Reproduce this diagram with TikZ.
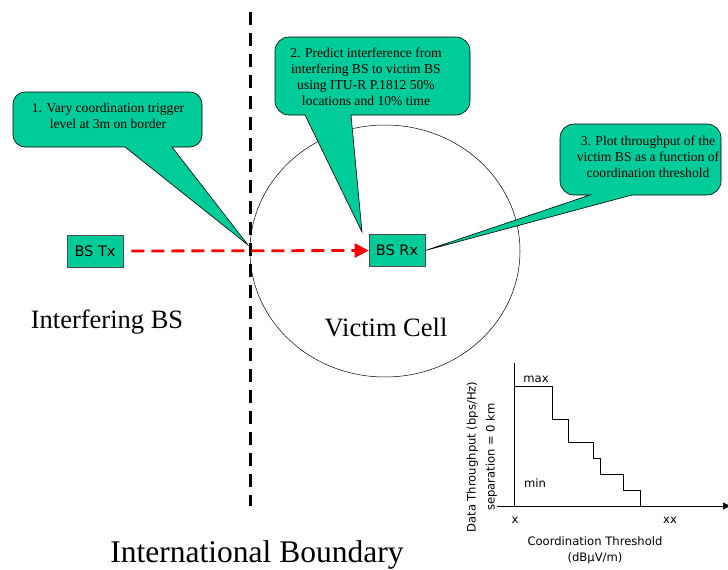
\documentclass[tikz,border=0pt]{standalone}
\usepackage{fontspec}
\setmainfont{Liberation Serif}
\newfontfamily\vsans{DejaVu Sans}
\usetikzlibrary{arrows.meta,shapes.geometric}
\definecolor{calloutgreen}{RGB}{0,204,153}
\begin{document}
\begin{tikzpicture}[x=1pt,y=-1pt,
  callout/.style={draw=black, line width=0.6pt, fill=calloutgreen},
  calltext/.style={align=center, font=\fontsize{13.6}{16}\selectfont, inner sep=0pt},
  bsbox/.style={draw=black!70, line width=0.6pt, fill=calloutgreen, minimum width=56pt, minimum height=32pt, inner sep=0pt, font=\vsans\fontsize{14.5}{16}\selectfont},
  bigtext/.style={font=\fontsize{26.5}{30}\selectfont, inner sep=0pt},
  charttext/.style={font=\vsans\fontsize{11.6}{13}\selectfont, inner sep=0pt},
  boundary/.style={line width=3pt, dash pattern=on 13pt off 8pt},
  interf/.style={red, line width=2.8pt, dash pattern=on 13pt off 7pt},
]
\useasboundingbox (0,0) rectangle (728,570);

% boundary line
\coordinate (btop) at (250,12);
\coordinate (bbot) at (250,506);
\draw[boundary] (btop) -- (bbot);

% victim cell
\node[draw, line width=0.5pt, ellipse, minimum width=270pt, minimum height=252pt, inner sep=0pt] (cell) at (385,251) {};

% BS boxes
\node[bsbox] (tx) at (95,251) {BS Tx};
\node[bsbox] (rx) at (397,250.5) {BS Rx};

% interference arrow
\draw[interf, -{Triangle[length=14pt,width=14pt]}, shorten <=8pt] (tx.east) -- (rx.west);

% callout 1
\coordinate (t1) at (248,245);
\draw[callout] (108,92) [rounded corners=12] -- (202,92) -- (202,147) [sharp corners] -- (172,147) -- (t1) -- (125,147) [rounded corners=12] -- (13,147) -- (13,92) -- cycle;
\node[calltext] (c1) at (108,116) {1. Vary coordination trigger\\level at 3m on border};

% callout 2
\coordinate (t2) at (362,232);
\draw[callout] (372,37) [rounded corners=14] -- (470,37) -- (470,115) [sharp corners] -- (351,115) -- (t2) -- (305,115) [rounded corners=14] -- (275,115) -- (275,37) -- cycle;
\node[calltext] (c2) at (366,77) {2. Predict interference from\\interfering BS to victim BS\\using ITU-R P.1812 50\%\\locations and 10\% time};

% callout 3
\coordinate (t3) at (rx.east);
\draw[callout] (640,124) [rounded corners=14] -- (721,124) -- (721,195) [sharp corners] -- (632,195) -- (t3) -- (590,195) [rounded corners=14] -- (560,195) -- (560,124) -- cycle;
\node[calltext] (c3) at (648,157) {3. Plot throughput of the\\victim BS as a function of\\coordination threshold};

% big labels
\node[bigtext] (ibs) at (107,322) {Interfering BS};
\node[bigtext] (vc) at (386,328) {Victim Cell};
\node[font=\fontsize{31.5}{34}\selectfont, inner sep=0pt] (ib) at (257,555) {International Boundary};

% chart
\coordinate (ytop) at (514,363);
\coordinate (ybot) at (514,506);
\coordinate (xl) at (497,506);
\coordinate (xr) at (730,506);
\draw[line width=0.6pt] (ytop) -- (ybot);
\draw[line width=0.6pt, -{Triangle[length=7pt,width=7pt]}] (xl) -- (xr);
\draw[line width=0.6pt] (514,386) -- (552,386) -- (552,419) -- (568,419) -- (568,442) -- (593,442) -- (593,458) -- (600,458) -- (600,474) -- (623,474) -- (623,490) -- (640,490) -- (640,506);
\node[charttext] (mx) at (536,379) {max};
\node[charttext] (mn) at (535,483) {min};
\node[charttext] (xa) at (515,520) {x};
\node[charttext] (xb) at (670,520) {xx};
\node[charttext, align=center, font=\vsans\fontsize{11.6}{16}\selectfont] (xt) at (595,550) {Coordination Threshold\\(dB\textmu V/m)};
\node[charttext, align=center, rotate=90, font=\vsans\fontsize{11.6}{19}\selectfont] (yt) at (482,457) {Data Throughput (bps/Hz)\\separation = 0 km};
\end{tikzpicture}
\end{document}
